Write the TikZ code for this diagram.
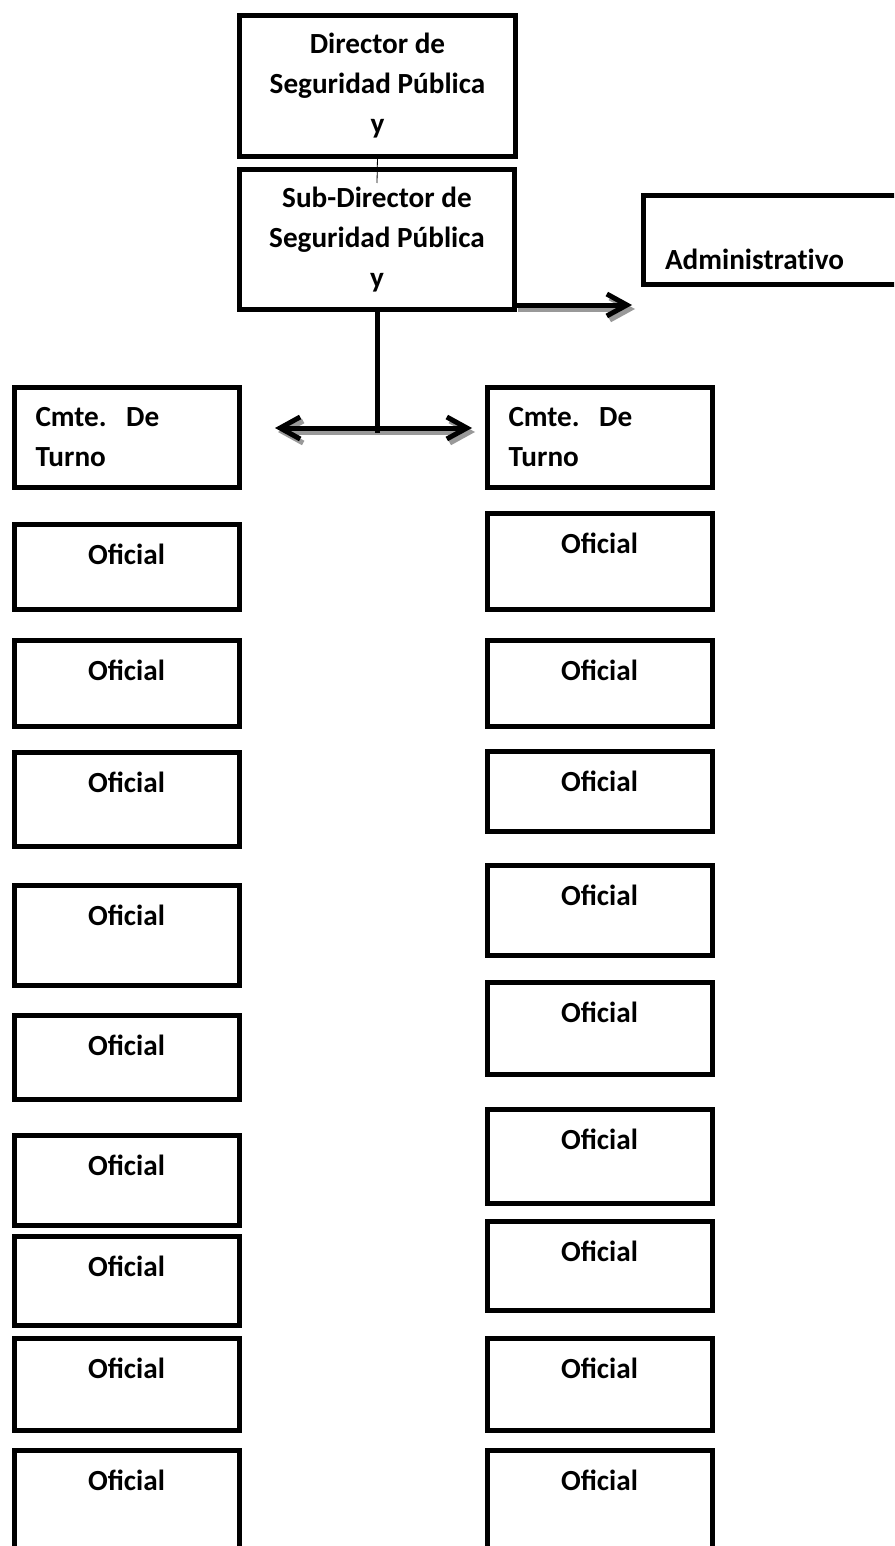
\documentclass[tikz,border=0pt]{standalone}
\usepackage{fontspec}
\setmainfont{Carlito}
\usepackage{tikz}
\usetikzlibrary{arrows.meta}

\tikzset{
  orgbox/.style={draw, line width=2.5pt, inner sep=0pt, outer sep=0pt, minimum width=112.5pt},
  ofibox/.style={orgbox, text height=19.75pt, align=center},
  cmtebox/.style={orgbox, minimum height=50pt, text width=91pt, inner xsep=10.75pt, align=left},
  topbox/.style={orgbox, align=center},
  conn/.style={line width=2.5pt},
  barb/.style={conn, -{Straight Barb[length=10pt, width=11pt]}},
  dbarb/.style={conn, {Straight Barb[length=10pt, width=11pt]}-{Straight Barb[length=10pt, width=11pt]}},
  shadowline/.style={draw=black!40, transform canvas={shift={(1.5pt,-2pt)}}}
}

\begin{document}
\begin{tikzpicture}[x=0.5pt, y=-0.5pt, font=\bfseries\fontsize{14.6pt}{20pt}\selectfont]
\path[use as bounding box, clip] (0,0) rectangle (894,1546);
% Direction
\node[topbox, minimum width=138pt, minimum height=70.5pt] (dir) at (377.5,86) {Director de\\Seguridad Pública\\y};
\node[topbox, minimum width=137.5pt, minimum height=70pt] (subdir) at (377,239.5) {Sub-Director de\\Seguridad Pública\\y};
\node[orgbox, minimum width=133.25pt, text width=111.75pt, inner xsep=10.75pt, align=left,
      text height=37.25pt, text depth=7.25pt] (admin) at (776.75,240) {Administrat\kern0pt ivo};
% Commanders
\node[cmtebox] (cmteL) at (126.5,437.5) {Cmte.\ \ De\\Turno};
\node[cmtebox] (cmteR) at (599.5,437.5) {Cmte.\ \ De\\Turno};
% Officers, left column
\foreach \t/\b [count=\i] in {522/612,638/729,750/849,883/988,1013/1102,1133/1228,1234/1328,1336/1433,1448/1560}{
  \pgfmathsetmacro\dep{(\b-\t-5)/2-19.75}
  \node[ofibox, text depth=\dep pt] (ofiL\i) at (126.5,{(\t+\b)/2}) {Oficial};
}
% Officers, right column
\foreach \t/\b [count=\i] in {511/612,638/729,749/834,863/958,980/1077,1107/1206,1219/1313,1336/1433,1448/1560}{
  \pgfmathsetmacro\dep{(\b-\t-5)/2-19.75}
  \node[ofibox, text depth=\dep pt] (ofiR\i) at (599.5,{(\t+\b)/2}) {Oficial};
}
% Connectors
\coordinate (stub) at (377,183);
\coordinate (admtip) at (632,305);
\coordinate (split) at (377,433);
\coordinate (tipL) at (275,428);
\coordinate (tipR) at (472,428);
\draw[thin] (dir.south) -- (stub);
\draw[shadowline, barb] (subdir.east |- admtip) -- (admtip);
\draw[barb] (subdir.east |- admtip) -- (admtip);
\draw[shadowline, dbarb] (tipL) -- (tipR);
\draw[dbarb] (tipL) -- (tipR);
\draw[conn] (subdir.south) -- (split);
\end{tikzpicture}
\end{document}
